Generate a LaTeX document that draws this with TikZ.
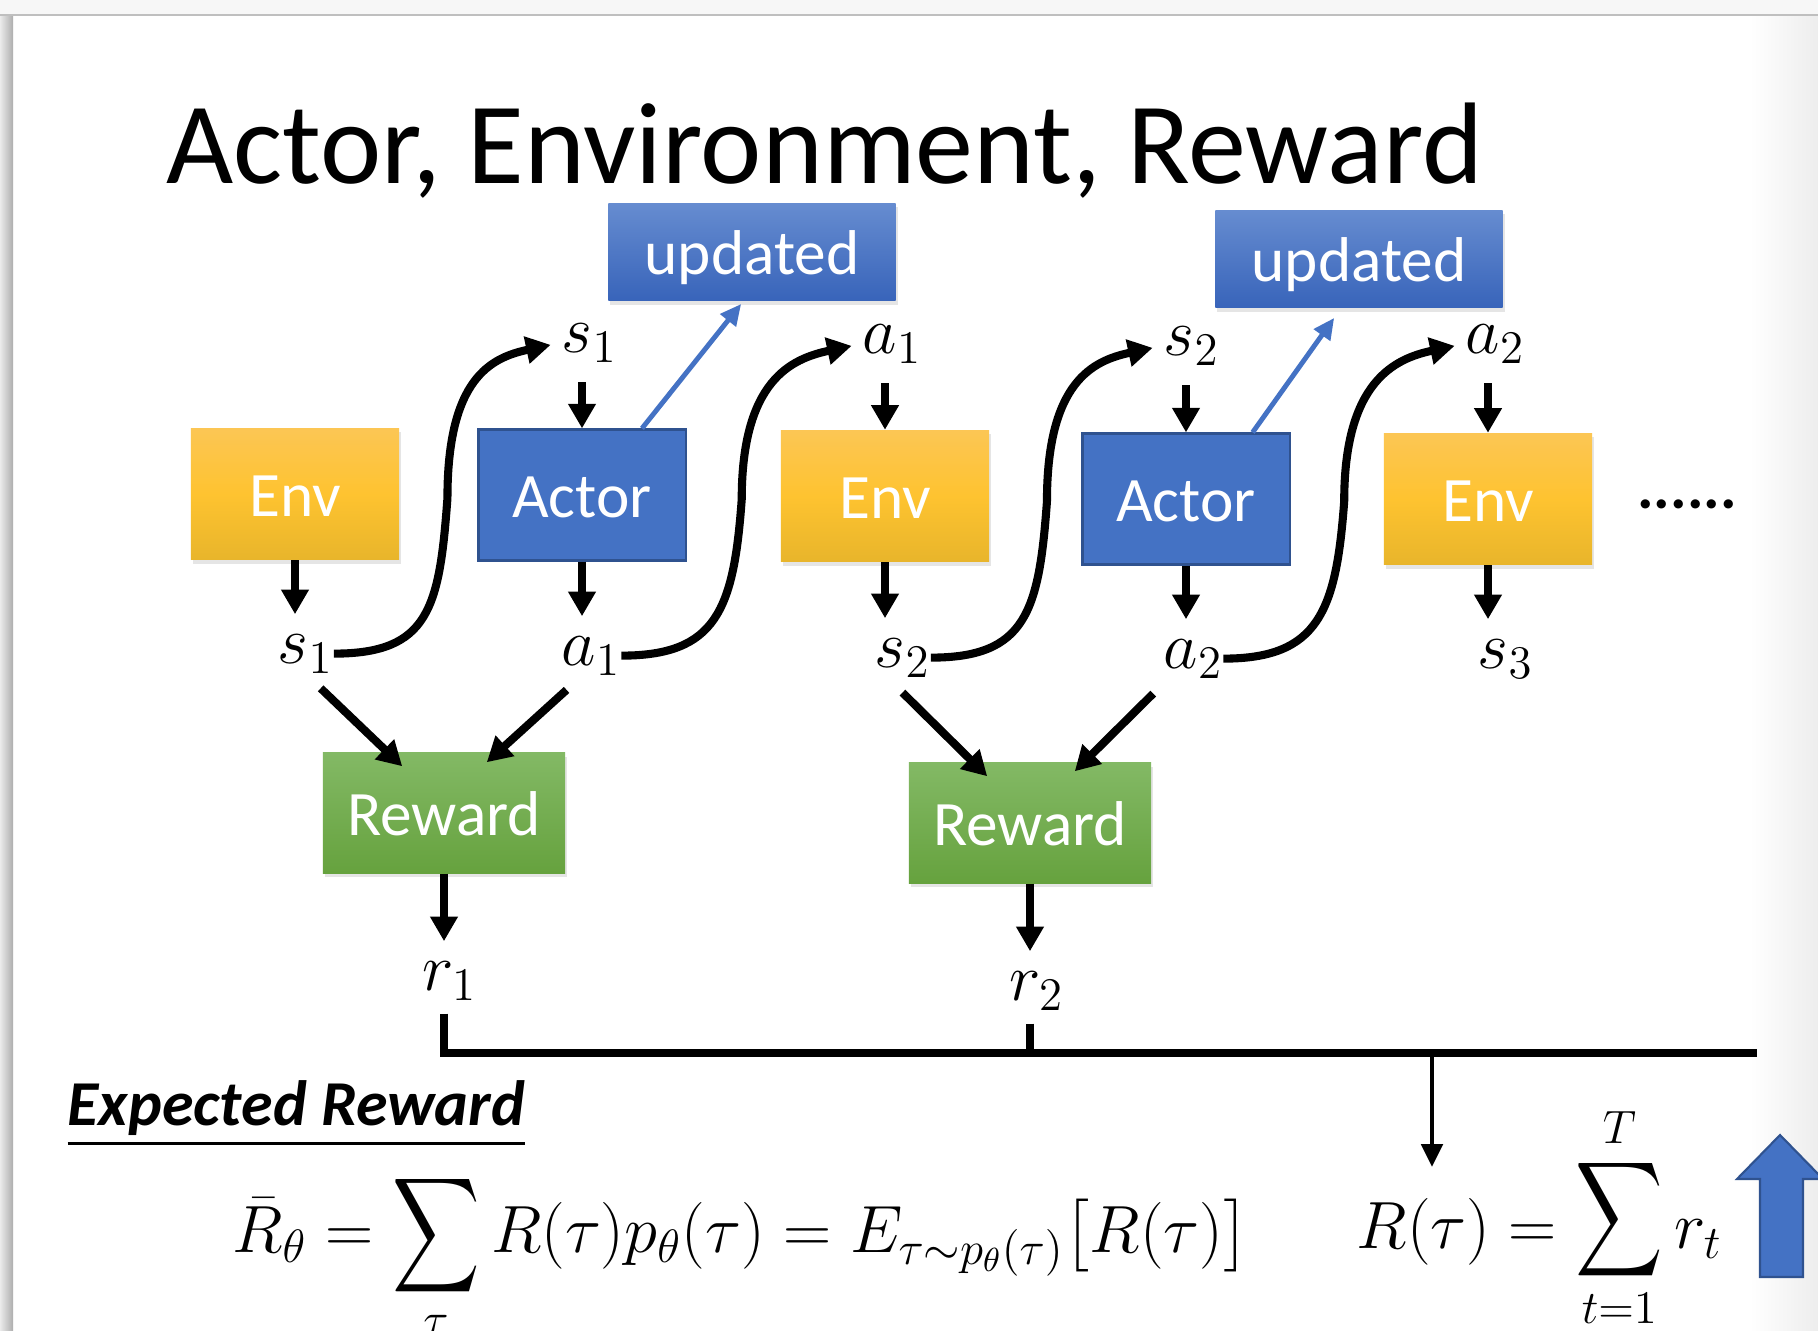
\RequirePackage{fix-cm}
\documentclass[tikz,border=0pt]{standalone}
\usepackage{amsmath}
\usepackage[no-math]{fontspec}
\setmainfont{Carlito}
\usepackage{graphicx}
\usetikzlibrary{arrows.meta, calc, shadows}
\definecolor{envtop}{RGB}{252, 198, 84}
\definecolor{envmid}{RGB}{254, 195, 48}
\definecolor{envbot}{RGB}{232, 181, 43}
\definecolor{actorblue}{RGB}{68, 114, 196}
\definecolor{actorline}{RGB}{47, 82, 143}
\definecolor{updtop}{RGB}{102, 140, 208}
\definecolor{updbot}{RGB}{56, 100, 186}
\definecolor{rewtop}{RGB}{131, 185, 101}
\definecolor{rewbot}{RGB}{102, 162, 62}
\newcommand{\tallsum}[1][0pt]{\mathop{\raisebox{#1}{$\vcenter{\hbox{\scalebox{1.0}[1.32]{$\displaystyle\sum$}}}$}}\limits}
\tikzstyle{boxfont} = [font=\fontsize{18}{20}\selectfont, text=white, text height=13pt, text depth=0pt]
\tikzstyle{shadowed} = [drop shadow={shadow xshift=0.02cm, shadow yshift=-0.04cm, opacity=0.2}]
\tikzstyle{envbox} = [rectangle, boxfont, minimum width=2.08cm, minimum height=1.31cm, shadowed, top color=envtop, bottom color=envbot, middle color=envmid]
\tikzstyle{actorbox} = [rectangle, boxfont, minimum width=2.07cm, minimum height=1.31cm, fill=actorblue, draw=actorline, line width=0.6pt]
\tikzstyle{updbox} = [rectangle, boxfont, minimum width=2.87cm, minimum height=0.97cm, shadowed, top color=updtop, bottom color=updbot]
\tikzstyle{rewbox} = [rectangle, boxfont, minimum width=2.42cm, minimum height=1.2cm, shadowed, top color=rewtop, bottom color=rewbot]
\tikzstyle{lbl} = [inner sep=0pt, anchor=base west, font=\fontsize{19}{22}\selectfont]
\tikzstyle{fml} = [inner sep=0pt, anchor=base west, font=\fontsize{19}{22}\selectfont]
\tikzstyle{arr} = [-{Triangle[length=7pt, width=7.5pt]}, line width=2.3pt]
\tikzstyle{tolbl} = [arr, shorten >=5.5pt]
\tikzstyle{fromlbl} = [arr, shorten <=5.5pt]
\tikzstyle{curvy} = [arr, shorten >=3pt]
\tikzstyle{bluearr} = [-{Triangle[length=6pt, width=5.5pt]}, line width=1.4pt, draw=actorblue]
\tikzstyle{bar} = [line width=2.3pt]
\tikzstyle{thinarr} = [-{Triangle[length=6.5pt, width=6pt]}, line width=1.3pt]

\begin{document}
\begin{tikzpicture}[x=0.01cm, y=-0.01cm]
    \useasboundingbox (0,0) rectangle (1818,1330);
    % Window frame
    \fill[white] (0,0) rectangle (1818,1330);
    \shade[left color=white, right color=black!7] (1750,16) rectangle (1818,1330);
    \fill[black!3] (0,0) rectangle (1818,14);
    \fill[black!25] (0,14) rectangle (1818,16);
    \shade[left color=black!8, right color=black!32] (0,16) rectangle (13,1330);

    % Title
    \node[font=\fontsize{33}{36}\selectfont, anchor=base west, inner sep=0pt] (title) at (166,183) {Actor, Environment, Reward};

    % Env and Actor boxes
    \node[envbox] (env1) at (295,494) {Env};
    \node[actorbox] (actor1) at (582,495) {Actor};
    \node[envbox] (env2) at (885,496) {Env};
    \node[actorbox] (actor2) at (1186,499) {Actor};
    \node[envbox] (env3) at (1488,499) {Env};
    \node[font=\bfseries\fontsize{17.6}{20}\selectfont, anchor=base, inner sep=0pt] (more) at (1687,508) {......};

    % Updated boxes
    \node[updbox] (upd1) at (752,252) {updated};
    \node[updbox] (upd2) at (1359,259) {updated};

    % Reward boxes
    \node[rewbox] (rew1) at (444,813) {Reward};
    \node[rewbox] (rew2) at (1030,823) {Reward};

    % States and actions
    \node[lbl] (s1b) at (277,663) {$s_1$};
    \node[lbl] (a1b) at (561,665) {$a_1$};
    \node[lbl] (s2b) at (874,667) {$s_2$};
    \node[lbl] (a2b) at (1163,668) {$a_2$};
    \node[lbl] (s3) at (1477,668) {$s_3$};
    \node[lbl] (s1t) at (561,352) {$s_1$};
    \node[lbl] (a1t) at (862,353) {$a_1$};
    \node[lbl] (s2t) at (1163,355) {$s_2$};
    \node[lbl] (a2t) at (1465,353) {$a_2$};
    \node[lbl] (r1) at (422,990) {$r_1$};
    \node[lbl] (r2) at (1009,1000) {$r_2$};

    % Down arrows
    \draw[tolbl] (env1.south) -- (env1 |- s1b.north);
    \draw[tolbl] (actor1.south) -- (actor1 |- a1b.north);
    \draw[tolbl] (env2.south) -- (env2 |- s2b.north);
    \draw[tolbl] (actor2.south) -- (actor2 |- a2b.north);
    \draw[tolbl] (env3.south) -- (env3 |- s3.north);
    \draw[fromlbl] (actor1 |- s1t.south) -- (actor1.north);
    \draw[fromlbl] (env2 |- a1t.south) -- (env2.north);
    \draw[fromlbl] (actor2 |- s2t.south) -- (actor2.north);
    \draw[fromlbl] (env3 |- a2t.south) -- (env3.north);
    \draw[tolbl] (rew1.south) -- (rew1 |- r1.north);
    \draw[tolbl] (rew2.south) -- (rew2 |- r2.north);

    % Curved hand-over arrows
    \draw[curvy] (s1b.east) .. controls +(95,0) and +(-8,110) .. ($(s1b.east)!0.5!(s1t.west)$)
        .. controls +(0,-120) and +(-70,15) .. (s1t.west);
    \draw[curvy] (a1b.east) .. controls +(95,0) and +(-8,110) .. ($(a1b.east)!0.5!(a1t.west)$)
        .. controls +(0,-120) and +(-70,15) .. (a1t.west);
    \draw[curvy] (s2b.east) .. controls +(95,0) and +(-8,110) .. ($(s2b.east)!0.5!(s2t.west)$)
        .. controls +(0,-120) and +(-70,15) .. (s2t.west);
    \draw[curvy] (a2b.east) .. controls +(95,0) and +(-8,110) .. ($(a2b.east)!0.5!(a2t.west)$)
        .. controls +(0,-120) and +(-70,15) .. (a2t.west);

    % Actor gets updated
    \draw[bluearr, shorten >=1pt] (actor1.48) -- (upd1.260);
    \draw[bluearr, shorten >=3.4pt] (actor2.45) -- (upd2.250);

    % Into the reward boxes
    \draw[arr, shorten <=6pt] (s1b.south) -- ($(rew1.north west)+(80,14)$);
    \draw[arr, shorten <=6pt] ($(a1b.south)+(-9,0)$) -- ($(rew1.north east)+(-79,10)$);
    \draw[arr, shorten <=6pt] ($(s2b.south)+(-15,0)$) -- ($(rew2.north west)+(79,14)$);
    \draw[arr, shorten <=6pt] ($(a2b.south)+(-25,0)$) -- ($(rew2.north east)+(-77,9)$);

    % Collecting the rewards
    \coordinate (barend) at (1757,1053);
    \coordinate (tap) at (1432,1053);
    \coordinate (rin) at (1432,1167);
    \draw[bar] ($(rew1 |- r1.south)+(0,13)$) |- (barend);
    \draw[bar] ($(rew2 |- r2.south)+(0,13)$) -- (rew2 |- barend);
    \draw[thinarr] (tap) -- (rin);

    % Expected reward
    \node[font=\bfseries\itshape\fontsize{18.2}{20}\selectfont, anchor=base west, inner sep=0pt] (exp) at (67,1125) {\underline{Expected Reward}};
    \node[fml] (rbar) at (232,1252) {$\displaystyle \bar{R}_\theta = \tallsum_{\tau} R(\tau)p_\theta(\tau) = E_{\tau\sim p_\theta(\tau)}\bigl[R(\tau)\bigr]$};
    \node[fml] (rsum) at (1356,1248) {$\displaystyle R(\tau) = \tallsum[3.4pt]_{t=1}^{T} r_t$};

    % Big up arrow
    \filldraw[fill=actorblue, draw=actorline, line width=0.6pt] (1780,1135) -- (1823,1179) -- (1803,1179)
        -- (1803,1277) -- (1760,1277) -- (1760,1179) -- (1737,1179) -- cycle;
\end{tikzpicture}
\end{document}
